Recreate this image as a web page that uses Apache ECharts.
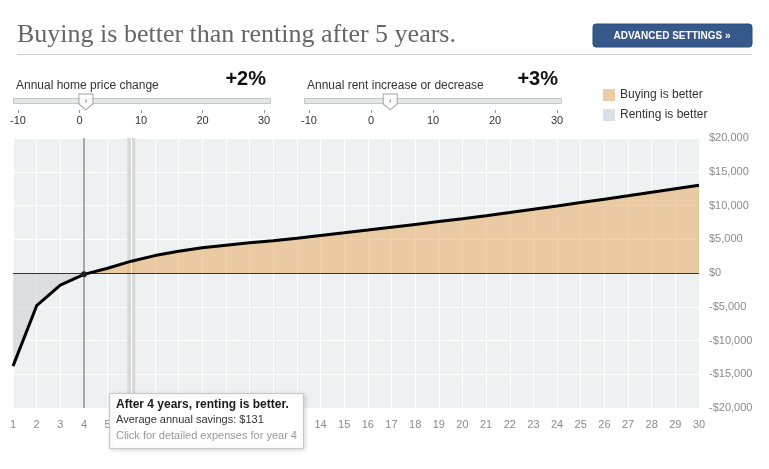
<!DOCTYPE html>
<html><head><meta charset="utf-8">
<script src="https://cdn.jsdelivr.net/npm/echarts@6/dist/echarts.min.js"></script>
<style>html,body{margin:0;padding:0;background:#fff;}#c{width:769px;height:469px;}</style>
</head><body><div id="c"></div>
<script>
const years = [1,2,3,4,5,6,7,8,9,10,11,12,13,14,15,16,17,18,19,20,21,22,23,24,25,26,27,28,29,30];
const netSavings = [-13800,-4850,-1800,-200,700,1750,2580,3220,3730,4120,4470,4790,5150,5550,5950,6360,6780,7200,7620,8040,8470,8950,9440,9930,10430,10940,11450,11970,12490,13000];
const breakEvenYear = 4;
const hoverYear = 6;
const sliderTicks = [-10,0,10,20,30];
const sliderNames = ['Annual home price change','Annual rent increase or decrease'];
const sliderLabels = ['+2%','+3%'];
const handlePositions = [1.05, 3.1];
const titleText = 'Buying is better than renting after 5 years.';
const tipLines = ['After 4 years, renting is better.','Average annual savings: $131','Click for detailed expenses for year 4'];

const SANS = '"Liberation Sans", Arial, sans-serif';
const chart = echarts.init(document.getElementById('c'), null, {renderer:'canvas'});

const pts = years.map((y,i)=>[y, netSavings[i]]);
const bi = years.indexOf(breakEvenYear);
const rentPts = pts.slice(0, bi+1);
const buyPts = pts.slice(bi);
const linePts = pts.map((p,i)=> i===bi ? {value:p, symbol:'circle', symbolSize:6, itemStyle:{color:'#222'}} : p);

function money(v){
  if (v===0) return '$0';
  const s = '$' + Math.abs(v).toLocaleString('en-US');
  return v<0 ? '-'+s : s;
}

function txt(text, x, y, font, fill, align){
  return {type:'text', z:5, style:{text, x, y, font, fill, textAlign:align||'left', align:align||'left', textVerticalAlign:'middle', verticalAlign:'middle'}};
}

const handlePath = 'path://M0,0 L14,0 L14,10 L7,16 L0,10 Z';

const option = {
  animation:false,
  grid:[
    {left:13, right:70, top:138, bottom:61, show:true, backgroundColor:'#eef1f2', borderWidth:0},
    {left:18, width:246, top:97, height:13},
    {left:309, width:248, top:97, height:13}
  ],
  legend:{
    orient:'vertical', left:598, top:84, itemWidth:12, itemHeight:12, itemGap:8,
    textStyle:{color:'#333', fontSize:12, fontFamily:SANS},
    data:[
      {name:'Buying is better', icon:'rect', itemStyle:{color:'#eccca4'}},
      {name:'Renting is better', icon:'rect', itemStyle:{color:'#d9e0ea'}}
    ]
  },
  xAxis:[
    {gridIndex:0, type:'value', min:1, max:30, interval:1,
     axisLine:{show:false}, axisTick:{show:false},
     axisLabel:{color:'#8a8a8a', fontSize:11, margin:11, fontFamily:SANS},
     splitLine:{show:true, lineStyle:{color:'#ffffff', width:1}}},
    {gridIndex:1, type:'value', min:-10, max:30, interval:10,
     axisLine:{show:false}, axisTick:{show:true, length:3, lineStyle:{color:'#999'}},
     axisLabel:{color:'#333', fontSize:11, margin:5, fontFamily:SANS}, splitLine:{show:false}},
    {gridIndex:2, type:'value', min:-10, max:30, interval:10,
     axisLine:{show:false}, axisTick:{show:true, length:3, lineStyle:{color:'#999'}},
     axisLabel:{color:'#333', fontSize:11, margin:5, fontFamily:SANS}, splitLine:{show:false}}
  ],
  yAxis:[
    {gridIndex:0, type:'value', position:'right', min:-20000, max:20000, interval:5000,
     axisLine:{show:false}, axisTick:{show:false},
     axisLabel:{color:'#8a8a8a', fontSize:11, margin:10, fontFamily:SANS, formatter:money},
     splitLine:{show:true, lineStyle:{color:'#ffffff', width:1}}},
    {gridIndex:1, type:'value', min:0, max:1, show:false},
    {gridIndex:2, type:'value', min:0, max:1, show:false}
  ],
  series:[
    {name:'Renting is better', type:'line', xAxisIndex:0, yAxisIndex:0, data:rentPts, symbol:'none',
     lineStyle:{width:0, opacity:0}, areaStyle:{color:'rgba(205,206,209,0.82)', origin:0}, z:2,
     markArea:{silent:true, itemStyle:{color:'#d9d9d9'}, data:[[{xAxis:hoverYear-0.17},{xAxis:hoverYear+0.17}]]},
     markLine:{silent:true, symbol:'none', label:{show:false}, lineStyle:{color:'#ffffff', width:1, type:'solid'}, data:[{xAxis:hoverYear}]}
    },
    {name:'Buying is better', type:'line', xAxisIndex:0, yAxisIndex:0, data:buyPts, symbol:'none',
     lineStyle:{width:0, opacity:0}, areaStyle:{color:'rgba(230,176,108,0.86)', origin:0}, z:3},
    {name:'net', type:'line', xAxisIndex:0, yAxisIndex:0, data:linePts, symbol:'none', showSymbol:true,
     lineStyle:{color:'#000', width:3}, z:5,
     markLine:{silent:true, symbol:'none', label:{show:false}, animation:false,
       data:[
         {yAxis:0, lineStyle:{color:'#333', width:1, type:'solid'}},
         {xAxis:breakEvenYear, lineStyle:{color:'#a9a9a9', width:2, type:'solid'}}
       ]}
    },
    {name:'h1', type:'scatter', xAxisIndex:1, yAxisIndex:1, data:[[handlePositions[0],0.62]], symbol:handlePath, symbolSize:[14,16],
     itemStyle:{color:'#fff', borderColor:'#8a8a8a', borderWidth:1}, z:10, silent:true},
    {name:'h1t', type:'scatter', xAxisIndex:1, yAxisIndex:1, data:[[handlePositions[0],0.7]], symbol:'rect', symbolSize:[1,3],
     itemStyle:{color:'#666'}, z:11, silent:true},
    {name:'h2', type:'scatter', xAxisIndex:2, yAxisIndex:2, data:[[handlePositions[1],0.62]], symbol:handlePath, symbolSize:[14,16],
     itemStyle:{color:'#fff', borderColor:'#8a8a8a', borderWidth:1}, z:10, silent:true},
    {name:'h2t', type:'scatter', xAxisIndex:2, yAxisIndex:2, data:[[handlePositions[1],0.7]], symbol:'rect', symbolSize:[1,3],
     itemStyle:{color:'#666'}, z:11, silent:true}
  ],
  graphic:[
    txt(titleText, 17, 35, '26px "Liberation Serif", Georgia, serif', '#666'),
    {type:'line', z:1, shape:{x1:17, y1:54.5, x2:752, y2:54.5}, style:{stroke:'#cccccc', lineWidth:1}},
    {type:'rect', z:1, shape:{x:593, y:24, width:159, height:23, r:3}, style:{fill:'#37588a', stroke:'#2c4a78', lineWidth:1}},
    txt('ADVANCED SETTINGS »', 672, 36, 'bold 10px "Liberation Sans Narrow", "Liberation Sans", Arial, sans-serif', '#ffffff', 'center'),
    txt(sliderNames[0], 16, 86, '12px '+SANS, '#333'),
    txt(sliderLabels[0], 266, 79, 'bold 20px '+SANS, '#111', 'right'),
    txt(sliderNames[1], 307, 86, '12px '+SANS, '#333'),
    txt(sliderLabels[1], 558, 79, 'bold 20px '+SANS, '#111', 'right'),
    {type:'rect', z:1, shape:{x:13.5, y:98.5, width:257, height:5}, style:{fill:'#e5e7e7', stroke:'#c4c6c6', lineWidth:1}},
    {type:'rect', z:1, shape:{x:304.5, y:98.5, width:257, height:5}, style:{fill:'#e5e7e7', stroke:'#c4c6c6', lineWidth:1}},
    {type:'rect', z:20, shape:{x:109.5, y:393.5, width:194, height:55}, style:{fill:'#ffffff', stroke:'#c9c9c9', lineWidth:1, shadowBlur:5, shadowColor:'rgba(0,0,0,0.18)', shadowOffsetX:1, shadowOffsetY:1}},
    Object.assign(txt(tipLines[0], 116, 405, 'bold 12px '+SANS, '#1a1a1a'), {z:21}),
    Object.assign(txt(tipLines[1], 116, 420, '11px '+SANS, '#333'), {z:21}),
    Object.assign(txt(tipLines[2], 116, 435.5, '11px '+SANS, '#999'), {z:21})
  ]
};
chart.setOption(option);
</script></body></html>
